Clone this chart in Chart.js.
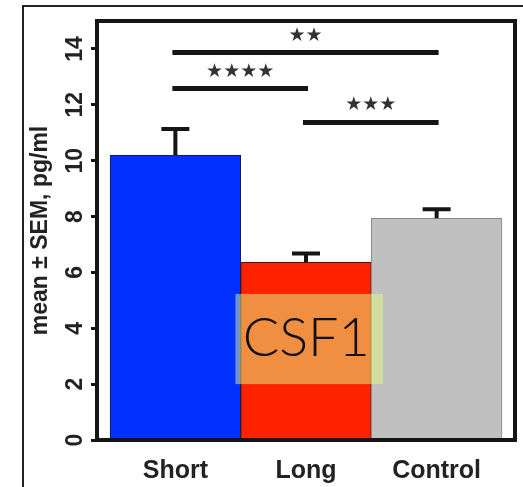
<!DOCTYPE html>
<html>
<head>
<meta charset="utf-8">
<script src="https://cdn.jsdelivr.net/npm/chart.js@4.4.0/dist/chart.umd.min.js"></script>
<style>
  html, body { margin: 0; padding: 0; background: #fff; }
</style>
</head>
<body>
<canvas id="csfChart" width="523" height="487"></canvas>
<script>
var groups = ['Short', 'Long', 'Control'];
var means = [10.2, 6.36, 7.94];
var sem = [0.93, 0.32, 0.32];
var yTicks = [0, 2, 4, 6, 8, 10, 12, 14];

// significance brackets between groups
var pairFrom = [0, 0, 1];
var pairTo = [2, 1, 2];
var pairLevel = [13.87, 12.58, 11.37];
var pairStars = ['★★', '★★★★', '★★★'];

var barColors = ['#0031ff', '#ff2200', '#c0c0c0'];
var edgeColors = ['#1c1c40', '#3a1c10', '#8a8a8a'];

var ink = '#151515';

var extras = {
  id: 'extras',
  afterDatasetsDraw: function (chart) {
    var c = chart.ctx;
    var xs = chart.scales.x, ys = chart.scales.y, area = chart.chartArea;
    c.save();

    // SEM whiskers (upper only)
    c.strokeStyle = ink;
    c.lineWidth = 4;
    for (var i = 0; i < means.length; i++) {
      var px = xs.getPixelForValue(i);
      var top = ys.getPixelForValue(means[i] + sem[i]);
      c.beginPath();
      c.moveTo(px, ys.getPixelForValue(means[i]));
      c.lineTo(px, top);
      c.moveTo(px - 14, top);
      c.lineTo(px + 14, top);
      c.stroke();
    }

    // brackets + stars
    c.lineWidth = 5;
    c.font = 'bold 19px "DejaVu Sans"';
    c.textAlign = 'center';
    c.textBaseline = 'middle';
    for (var k = 0; k < pairFrom.length; k++) {
      var x0 = xs.getPixelForValue(pairFrom[k]) - 3;
      var x1 = xs.getPixelForValue(pairTo[k]) + 2;
      var yy = ys.getPixelForValue(pairLevel[k]);
      c.beginPath();
      c.moveTo(x0, yy);
      c.lineTo(x1, yy);
      c.stroke();
      c.fillStyle = '#333';
      c.fillText(pairStars[k], (x0 + x1) / 2, yy - 17);
    }

    // CSF1 tag box
    var bx0 = xs.getPixelForValue(0.46), bx1 = xs.getPixelForValue(1.59);
    var by0 = ys.getPixelForValue(5.23), by1 = ys.getPixelForValue(2.0);
    c.fillStyle = 'rgba(225, 250, 130, 0.5)';
    c.fillRect(bx0, by0, bx1 - bx0, by1 - by0);
    c.fillStyle = '#111';
    c.font = '300 54px Lato';
    c.textBaseline = 'alphabetic';
    c.fillText('CSF1', (bx0 + bx1) / 2 - 3, by1 - 28);

    // plot frame
    c.lineWidth = 4;
    c.strokeStyle = ink;
    c.strokeRect(area.left, area.top, area.right - area.left, area.bottom - area.top);

    // outer panel frame
    c.lineWidth = 2;
    c.strokeStyle = '#222';
    c.strokeRect(23, 6, 700, 700);
    c.restore();
  }
};

var ctx = document.getElementById('csfChart').getContext('2d');
var chart = new Chart(ctx, {
  type: 'bar',
  data: {
    datasets: [{
      data: means.map(function (m, i) { return { x: i, y: m }; }),
      backgroundColor: barColors,
      borderColor: edgeColors,
      borderWidth: 1,
      barPercentage: 1,
      categoryPercentage: 1
    }]
  },
  options: {
    responsive: false,
    animation: false,
    layout: { padding: { top: 21, right: 8, left: 0, bottom: 0 } },
    plugins: { legend: { display: false }, tooltip: { enabled: false } },
    scales: {
      x: {
        type: 'linear',
        min: -0.6,
        max: 2.6,
        offset: false,
        grid: { display: false },
        border: { display: false },
        afterBuildTicks: function (s) {
          s.ticks = groups.map(function (g, i) { return { value: i }; });
        },
        afterFit: function (s) { s.height = 47; },
        ticks: {
          callback: function (v) { return groups[v]; },
          color: '#222',
          font: { family: '"Liberation Sans", Arial, sans-serif', size: 25, weight: 'bold' },
          padding: 8,
          maxRotation: 0
        }
      },
      y: {
        min: 0,
        max: 15,
        afterBuildTicks: function (s) {
          s.ticks = yTicks.map(function (v) { return { value: v }; });
        },
        afterFit: function (s) { s.width = 97; },
        grid: { drawOnChartArea: false, tickLength: 6, tickWidth: 3, color: ink },
        border: { display: false },
        ticks: {
          color: '#222',
          font: { family: '"Liberation Sans", Arial, sans-serif', size: 23, weight: 'bold' },
          minRotation: 90,
          maxRotation: 90,
          crossAlign: 'center',
          padding: 3
        },
        title: {
          display: true,
          text: 'mean ± SEM, pg/ml',
          color: '#222',
          font: { family: '"Liberation Sans", Arial, sans-serif', size: 23, weight: 'bold' },
          padding: { top: 27, bottom: 0 }
        }
      }
    }
  },
  plugins: [extras]
});
</script>
</body>
</html>
